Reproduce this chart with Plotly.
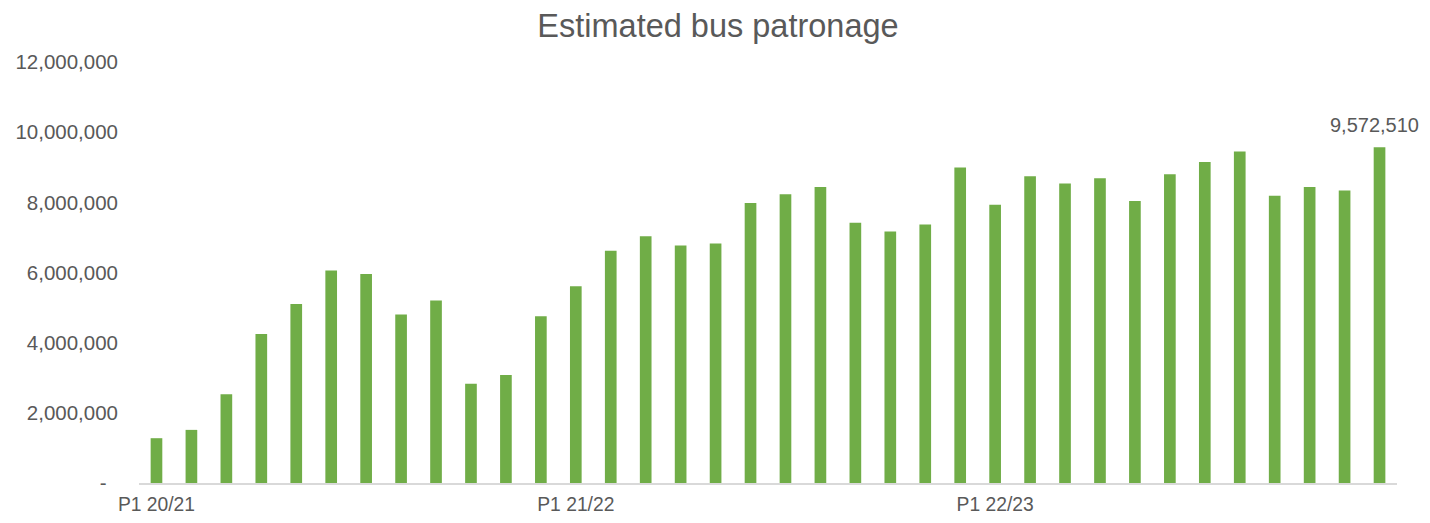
import plotly.graph_objects as go

# Data
periods = [f"P{p} {y}" for y in ["20/21", "21/22", "22/23"] for p in range(1, 13)]
patronage = [
    1277000, 1514000, 2530000, 4250000, 5100000, 6060000, 5960000, 4800000, 5200000,
    2830000, 3080000, 4750000,
    5610000, 6620000, 7030000, 6770000, 6830000, 7980000, 8230000, 8440000, 7420000,
    7170000, 7370000, 8990000,
    7930000, 8740000, 8540000, 8690000, 8040000, 8800000, 9150000, 9450000, 8190000,
    8440000, 8340000, 9572510,
]
x_tick_labels = ["P1 20/21", "P1 21/22", "P1 22/23"]
y_tick_values = [0, 2000000, 4000000, 6000000, 8000000, 10000000, 12000000]
y_tick_labels = ["-\u00a0\u00a0", "2,000,000", "4,000,000", "6,000,000", "8,000,000",
                 "10,000,000", "12,000,000"]

GREY = "#595959"
FONT = "Liberation Sans, Arial, sans-serif"

W, H = 1414, 507  # page body has an 8px margin

fig = go.Figure()
fig.add_trace(go.Bar(
    x=periods,
    y=patronage,
    marker=dict(color="#70ad47", line=dict(width=0)),
    hoverinfo="x+y",
))

last_x = periods[-1]
last_y = patronage[-1]
fig.add_annotation(
    x=last_x, y=last_y, text=f"{last_y:,}",
    showarrow=False, yanchor="bottom", yshift=9, xshift=-5,
    font=dict(family=FONT, size=20, color=GREY),
)

fig.update_layout(
    width=W, height=H,
    margin=dict(l=130.5, r=24.5, t=54, b=32, autoexpand=False),
    paper_bgcolor="white", plot_bgcolor="white",
    showlegend=False,
    bargap=0.666,
    font=dict(family=FONT, color=GREY),
    title=dict(
        text="Estimated bus patronage",
        x=710 / W, xanchor="center",
        y=1 - 18 / H, yanchor="middle", yref="container",
        font=dict(family=FONT, size=32.5, color=GREY),
    ),
    xaxis=dict(
        type="category",
        range=[-0.5, len(periods) - 0.5],
        tickmode="array",
        tickvals=x_tick_labels,
        ticktext=x_tick_labels,
        tickfont=dict(family=FONT, size=19.3, color=GREY),
        showline=True, linecolor="#d9d9d9", linewidth=1.5,
        showgrid=False, zeroline=False,
        ticks="", ticklabelstandoff=3, automargin=False,
    ),
    yaxis=dict(
        range=[0, 12000000],
        tickmode="array",
        tickvals=y_tick_values,
        ticktext=y_tick_labels,
        tickfont=dict(family=FONT, size=20.5, color=GREY),
        showgrid=False, zeroline=False, showline=False,
        ticks="", ticklabelstandoff=20, automargin=False,
    ),
)

fig.write_html("out.html")
